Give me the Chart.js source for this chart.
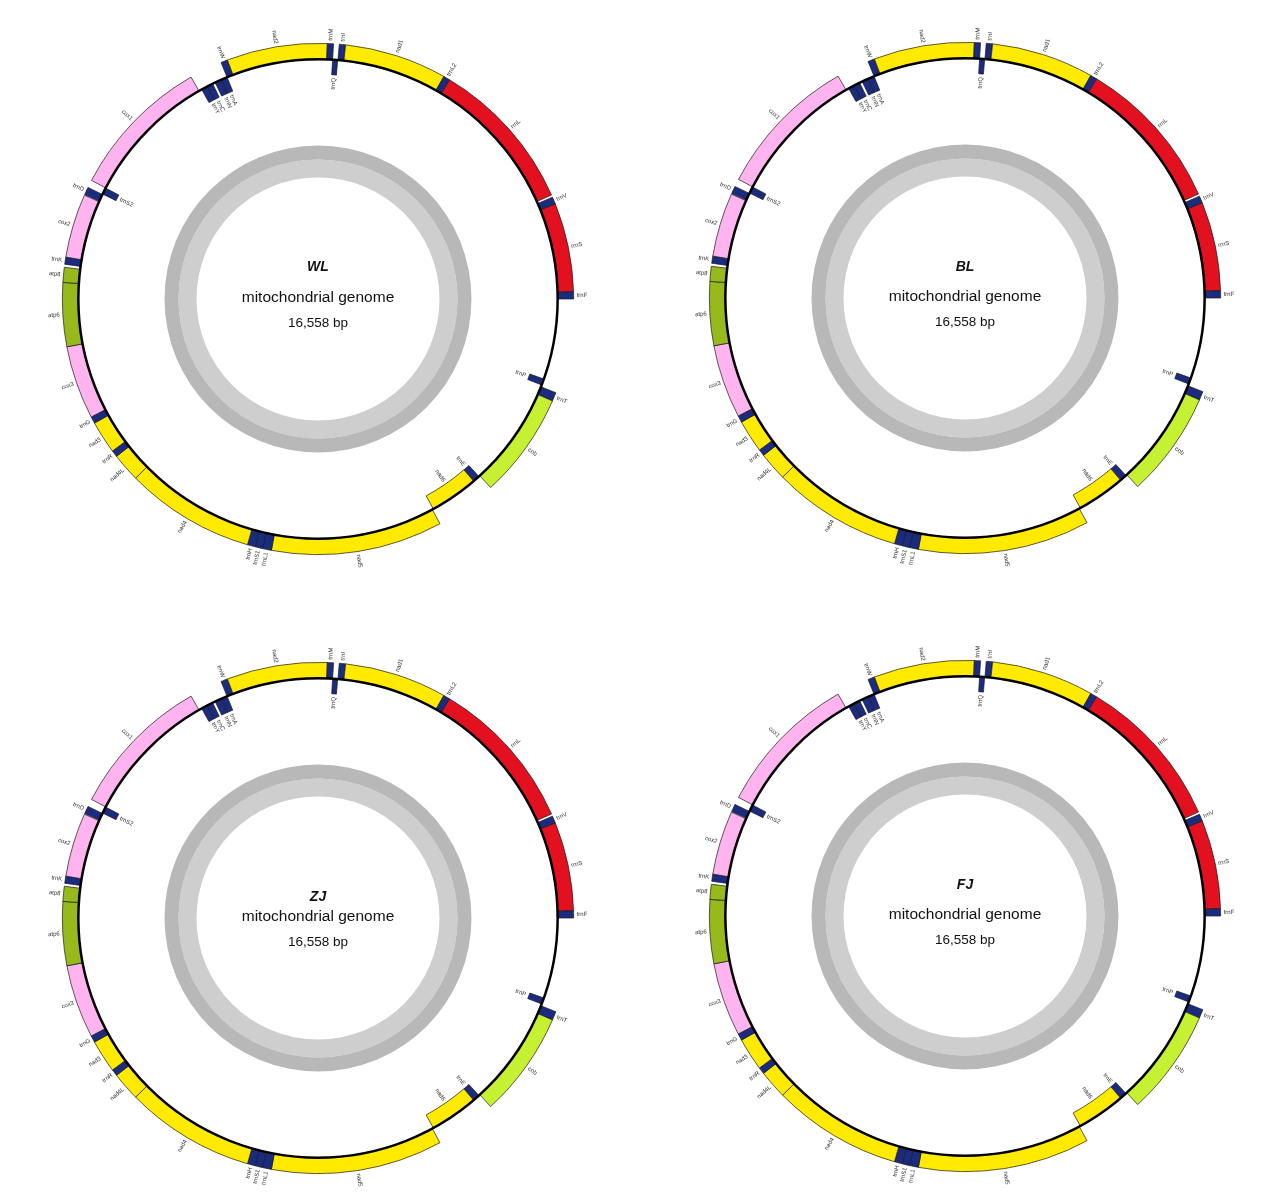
<!DOCTYPE html>
<html lang="en">
<head>
    <meta charset="UTF-8">
    <title>Mitochondrial genome maps</title>
    <script src="https://cdn.jsdelivr.net/npm/chart.js"></script>
    <style>
        body {
            margin: 0;
            background-color: #fff;
            font-family: "Liberation Sans", Arial, sans-serif;
        }
        .page {
            position: relative;
            width: 1267px;
            height: 1198px;
        }
        .panel {
            position: absolute;
            width: 580px;
            height: 580px;
        }
    </style>
</head>
<body>
    <div class="page">
        <div class="panel" style="left:28px; top:9px;"><canvas id="map0" width="580" height="580"></canvas></div>
        <div class="panel" style="left:675px; top:8px;"><canvas id="map1" width="580" height="580"></canvas></div>
        <div class="panel" style="left:28px; top:628px;"><canvas id="map2" width="580" height="580"></canvas></div>
        <div class="panel" style="left:675px; top:626px;"><canvas id="map3" width="580" height="580"></canvas></div>
    </div>

    <script>
        // samples, one map each
        const panelNames = ['WL', 'BL', 'ZJ', 'FJ'];
        const titleOffset = [-32, -31, -21, -31];   // name line above the centre
        const genomeSize = 16558;

        // genes in genome order (bp positions)
        const geneNames = ['trnF', 'rrnS', 'trnV', 'rrnL', 'trnL2', 'nad1', 'trnI', 'trnQ', 'trnM', 'nad2',
            'trnW', 'trnA', 'trnN', 'trnC', 'trnY', 'cox1', 'trnS2', 'trnD', 'cox2', 'trnK',
            'atp8', 'atp6', 'cox3', 'trnG', 'nad3', 'trnR', 'nad4L', 'nad4', 'trnH', 'trnS1',
            'trnL1', 'nad5', 'nad6', 'trnE', 'cob', 'trnT', 'trnP'];
        const geneStart = [1, 76, 1004, 1105, 2715, 2784, 3855, 3924, 3980, 4044,
            5095, 5166, 5236, 5340, 5406, 5510, 7012, 7090, 7178, 7846,
            7952, 8109, 8776, 9544, 9615, 9958, 10027, 10326, 11683, 11766,
            11844, 11936, 13743, 14282, 14373, 15478, 15592];
        const geneEnd = [75, 1003, 1080, 2714, 2783, 3854, 3920, 3979, 4043, 5094,
            5165, 5234, 5308, 5405, 5475, 7008, 7085, 7170, 7845, 7920,
            8108, 8775, 9543, 9614, 9957, 10026, 10325, 11682, 11765, 11843,
            11935, 13729, 14281, 14359, 15477, 15569, 15661];
        const geneStrand = ['+', '+', '+', '+', '+', '+', '+', '-', '+', '+',
            '+', '-', '-', '-', '-', '+', '-', '+', '+', '+',
            '+', '+', '+', '+', '+', '+', '+', '+', '+', '+',
            '+', '+', '-', '-', '+', '+', '-'];

        // colour by gene group
        const groupColors = {
            trn: '#1b2b80',
            rrn: '#e3111f',
            nad: '#ffea00',
            cox: '#ffb3ef',
            atp: '#97b91b',
            cob: '#c6f032'
        };

        // one ring of gene boxes for a strand, gaps filled with empty slices
        // the map runs counter-clockwise, so positions are flipped
        function strandRing(strand, weight) {
            const genes = [];
            geneNames.forEach((name, i) => {
                if (geneStrand[i] !== strand) return;
                genes.push({
                    name: name,
                    from: genomeSize - geneEnd[i],
                    to: genomeSize - geneStart[i] + 1
                });
            });
            genes.sort((a, b) => a.from - b.from);

            const data = [], colors = [], borders = [], names = [];
            let pos = 0;
            genes.forEach(g => {
                if (g.from > pos) {
                    data.push(g.from - pos); colors.push('rgba(0,0,0,0)'); borders.push(0); names.push(null);
                }
                data.push(g.to - g.from);
                colors.push(groupColors[g.name.slice(0, 3)]);
                borders.push(0.7);
                names.push(g.name);
                pos = g.to;
            });
            if (pos < genomeSize) {
                data.push(genomeSize - pos); colors.push('rgba(0,0,0,0)'); borders.push(0); names.push(null);
            }
            return {
                data: data,
                backgroundColor: colors,
                borderColor: '#1a1a1a',
                borderWidth: borders,
                weight: weight,
                geneLabels: names
            };
        }

        // draws the genome circle, the gene names and the text in the middle
        const mapPlugin = {
            id: 'mapDecor',
            afterDatasetsDraw(chart, args, opts) {
                const ctx = chart.ctx;
                const inner = chart.getDatasetMeta(1).data[0];
                const cx = inner.x, cy = inner.y;

                // genome circle
                ctx.save();
                ctx.beginPath();
                ctx.arc(cx, cy, inner.outerRadius, 0, Math.PI * 2);
                ctx.lineWidth = 2.5;
                ctx.strokeStyle = '#000';
                ctx.stroke();
                ctx.restore();

                // gene names
                [0, 1].forEach(di => {
                    const ds = chart.data.datasets[di];
                    chart.getDatasetMeta(di).data.forEach((arc, i) => {
                        const name = ds.geneLabels[i];
                        if (!name) return;
                        const a = (arc.startAngle + arc.endAngle) / 2;
                        const outside = di === 0;
                        const r = outside ? arc.outerRadius + 3 : arc.innerRadius - 3;
                        const right = Math.cos(a) >= 0;
                        ctx.save();
                        ctx.translate(cx + Math.cos(a) * r, cy + Math.sin(a) * r);
                        ctx.rotate(right ? a : a + Math.PI);
                        ctx.textAlign = (outside === right) ? 'left' : 'right';
                        ctx.textBaseline = 'middle';
                        ctx.font = '6px "Liberation Sans"';
                        ctx.fillStyle = '#333';
                        ctx.fillText(name, 0, 0);
                        ctx.restore();
                    });
                });

                // centre text
                ctx.save();
                ctx.textAlign = 'center';
                ctx.textBaseline = 'middle';
                ctx.fillStyle = '#111';
                ctx.font = 'italic bold 14px "Liberation Sans"';
                ctx.fillText(opts.title, cx, cy + opts.titleDy);
                ctx.font = '15.5px "Liberation Sans"';
                ctx.fillText('mitochondrial genome', cx, cy - 1);
                ctx.font = '13.5px "Liberation Sans"';
                ctx.fillText(genomeSize.toLocaleString('en-US') + ' bp', cx, cy + 24);
                ctx.restore();
            }
        };

        panelNames.forEach((name, k) => {
            const ctx = document.getElementById('map' + k).getContext('2d');
            new Chart(ctx, {
                type: 'doughnut',
                data: {
                    datasets: [
                        strandRing('+', 16),
                        strandRing('-', 15),
                        // empty space between the genes and the GC ring
                        { data: [1], backgroundColor: ['rgba(0,0,0,0)'], borderWidth: 0, weight: 71.2 },
                        // GC content ring
                        { data: [1], backgroundColor: ['#b8b8b8'], borderWidth: 0, weight: 14 },
                        { data: [1], backgroundColor: ['#cecece'], borderWidth: 0, weight: 18 }
                    ]
                },
                options: {
                    responsive: false,
                    animation: false,
                    events: [],
                    rotation: 90,
                    cutout: 121.5,
                    layout: { padding: 34 },
                    plugins: {
                        legend: { display: false },
                        tooltip: { enabled: false },
                        mapDecor: { title: name, titleDy: titleOffset[k] }
                    }
                },
                plugins: [mapPlugin]
            });
        });
    </script>
</body>
</html>
